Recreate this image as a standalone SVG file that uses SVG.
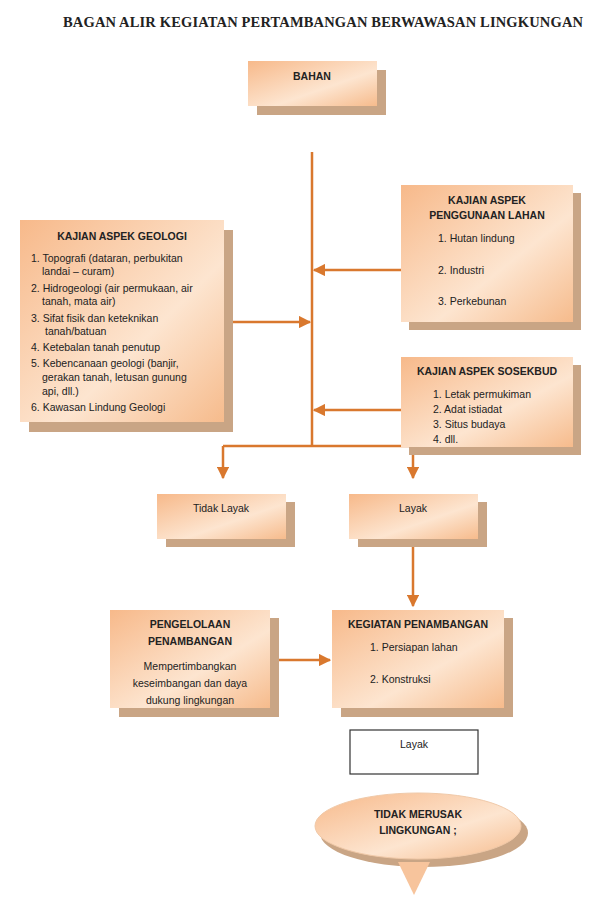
<svg xmlns="http://www.w3.org/2000/svg" width="600" height="920" viewBox="0 0 600 920">
<defs>
<linearGradient id="g" x1="0" y1="0" x2="1" y2="1">
<stop offset="0" stop-color="#f7b98a"/><stop offset="0.6" stop-color="#fde5d0"/><stop offset="1" stop-color="#f6bb8c"/>
</linearGradient>
<marker id="a" viewBox="0 0 10 10" refX="9" refY="5" markerWidth="5" markerHeight="5" orient="auto"><path d="M0,0 L10,5 L0,10 z" fill="#d9782e"/></marker>
<style>
.sh{fill:#c9a585}
.bx{fill:url(#g)}
text{font-family:"Liberation Sans",Arial,sans-serif;font-size:10.5px;fill:#222}
.b{font-weight:bold}
.c{text-anchor:middle}
.ln{stroke:#d9782e;stroke-width:2.5;fill:none}
</style>
</defs>
<rect width="600" height="920" fill="#fff"/>
<text x="323" y="27" class="b c" style="font-family:'Liberation Serif',serif;font-size:14.5px" textLength="520">BAGAN ALIR KEGIATAN PERTAMBANGAN BERWAWASAN LINGKUNGAN</text>

<g id="connectors">
<path class="ln" d="M312,152 V446"/>
<path class="ln" d="M224,322 H310" marker-end="url(#a)"/>
<path class="ln" d="M401,270 H314" marker-end="url(#a)"/>
<path class="ln" d="M401,410 H314" marker-end="url(#a)"/>
<path class="ln" d="M223,446 H413"/>
<path class="ln" d="M223,446 V478" marker-end="url(#a)"/>
<path class="ln" d="M413,446 V478" marker-end="url(#a)"/>
<path class="ln" d="M413,538 V606" marker-end="url(#a)"/>
<path class="ln" d="M270,660 H330" marker-end="url(#a)"/>
</g>

<g id="bahan"><rect class="sh" x="257" y="70" width="129" height="45"/><rect class="bx" x="248" y="61" width="129" height="45"/><text x="312" y="80" class="b c">BAHAN</text></g>

<g id="geologi"><rect class="sh" x="29" y="230" width="204" height="202"/><rect class="bx" x="20" y="220" width="204" height="202"/>
<text x="122" y="240" class="b c">KAJIAN ASPEK GEOLOGI</text>
<text x="31" y="262">1. Topografi  (dataran, perbukitan</text>
<text x="42" y="275">landai – curam)</text>
<text x="31" y="292">2. Hidrogeologi (air permukaan, air</text>
<text x="42" y="305">tanah, mata air)</text>
<text x="31" y="322">3. Sifat fisik dan keteknikan</text>
<text x="45" y="335">tanah/batuan</text>
<text x="31" y="351">4. Ketebalan tanah penutup</text>
<text x="31" y="367">5. Kebencanaan geologi (banjir,</text>
<text x="42" y="381">gerakan tanah, letusan gunung</text>
<text x="42" y="395">api,  dll.)</text>
<text x="31" y="411">6. Kawasan Lindung Geologi</text>
</g>

<g id="lahan"><rect class="sh" x="409" y="193" width="172" height="137"/><rect class="bx" x="401" y="185" width="172" height="137"/>
<text x="487" y="204" class="b c">KAJIAN ASPEK</text>
<text x="487" y="219" class="b c">PENGGUNAAN LAHAN</text>
<text x="438" y="242">1. Hutan lindung</text>
<text x="438" y="274">2. Industri</text>
<text x="438" y="305">3. Perkebunan</text>
</g>

<g id="sosekbud"><rect class="sh" x="409" y="365" width="172" height="90"/><rect class="bx" x="401" y="357" width="172" height="90"/>
<text x="487" y="375" class="b c">KAJIAN ASPEK SOSEKBUD</text>
<text x="433" y="398">1. Letak permukiman</text>
<text x="433" y="413">2. Adat istiadat</text>
<text x="433" y="428">3. Situs budaya</text>
<text x="433" y="443">4. dll.</text>
</g>

<g id="tidaklayak"><rect class="sh" x="166" y="502" width="129" height="45"/><rect class="bx" x="157" y="494" width="129" height="45"/><text x="221" y="512" class="c">Tidak Layak</text></g>
<g id="layak1"><rect class="sh" x="358" y="502" width="129" height="45"/><rect class="bx" x="349" y="494" width="129" height="45"/><text x="413" y="512" class="c">Layak</text></g>

<g id="pengelolaan"><rect class="sh" x="119" y="618" width="160" height="99"/><rect class="bx" x="110" y="610" width="160" height="98"/>
<text x="190" y="628" class="b c">PENGELOLAAN</text>
<text x="190" y="645" class="b c">PENAMBANGAN</text>
<text x="190" y="670" class="c">Mempertimbangkan</text>
<text x="190" y="687" class="c">keseimbangan dan daya</text>
<text x="190" y="704" class="c">dukung lingkungan</text>
</g>

<g id="kegiatan"><rect class="sh" x="341" y="618" width="172" height="99"/><rect class="bx" x="332" y="610" width="172" height="98"/>
<text x="418" y="628" class="b c">KEGIATAN PENAMBANGAN</text>
<text x="370" y="651">1. Persiapan lahan</text>
<text x="370" y="683">2. Konstruksi</text>
</g>

<g id="layak2"><rect x="350" y="730" width="128" height="44" fill="#fff" stroke="#333" stroke-width="1.2"/><text x="414" y="748" class="c">Layak</text></g>

<g id="tidakmerusak">
<ellipse cx="424" cy="833" rx="104" ry="34" class="sh"/>
<path d="M398,862 L430,862 L414,895 z" fill="#f7c49c"/>
<ellipse cx="418" cy="826" rx="103" ry="33" fill="url(#g)" stroke="#f0c9a8"/>
<text x="418" y="818" class="b c">TIDAK MERUSAK</text>
<text x="418" y="834" class="b c">LINGKUNGAN ;</text>
</g>
</svg>
